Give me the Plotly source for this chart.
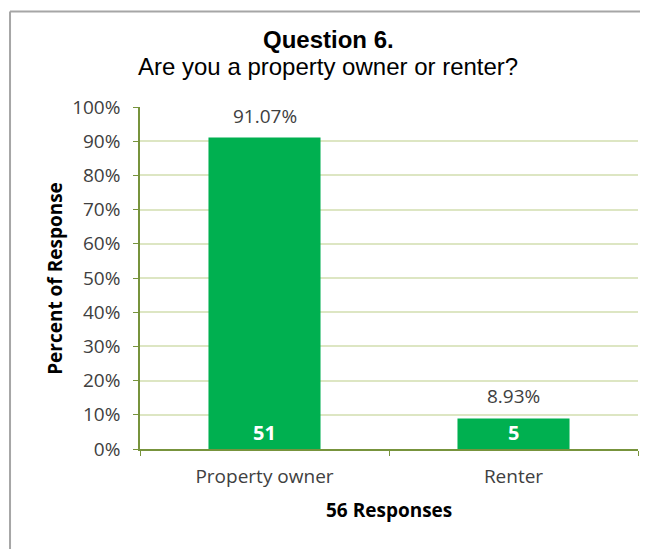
import plotly.graph_objects as go

categories = ["Property owner", "Renter"]
percents = [91.07, 8.93]
counts = [51, 5]
total_label = "56 Responses"
y_ticks = [0, 10, 20, 30, 40, 50, 60, 70, 80, 90, 100]
y_tick_labels = [f"{v}%" for v in y_ticks]

BAR = "#00b050"
GRID = "#dde6c3"
AXIS = "#77933c"
TXT = "#404040"
FONT = "Open Sans"
TFONT = "Liberation Sans"

fig = go.Figure()
fig.add_trace(go.Bar(
    x=categories, y=percents,
    marker=dict(color=BAR, line=dict(width=0)),
    width=0.45,
    hoverinfo="skip",
))

for c, p, n in zip(categories, percents, counts):
    fig.add_annotation(x=c, y=p, xref="x", yref="y", text=f"{p:.2f}%",
                       showarrow=False, yanchor="middle", yshift=22,
                       font=dict(family=FONT, size=19, color=TXT))
    fig.add_annotation(x=c, y=0, xref="x", yref="y", text=f"<b>{n}</b>",
                       showarrow=False, yanchor="middle", yshift=17,
                       font=dict(family=FONT, size=20, color="white"))

# titles
fig.add_annotation(x=0.378, xref="paper", y=1.196, yref="paper", yanchor="middle",
                   text="<b>Question 6.</b>", showarrow=False,
                   font=dict(family=TFONT, size=24, color="black"))
fig.add_annotation(x=0.378, xref="paper", y=1.117, yref="paper", yanchor="middle",
                   text="Are you a property owner or renter?", showarrow=False,
                   font=dict(family=TFONT, size=24, color="black"))
# axis titles
fig.add_annotation(x=0.5, xref="paper", y=-0.178, yref="paper", yanchor="middle",
                   text=f"<b>{total_label}</b>", showarrow=False,
                   font=dict(family=FONT, size=19, color="black"))
fig.add_annotation(x=-0.171, xref="paper", y=0.5, yref="paper", xanchor="center",
                   yanchor="middle", textangle=-90,
                   text="<b>Percent of Response</b>", showarrow=False,
                   font=dict(family=FONT, size=19, color="black"))

fig.update_layout(
    width=648, height=549,
    margin=dict(l=132, r=18, t=99, b=108),
    paper_bgcolor="white", plot_bgcolor="white",
    showlegend=False,
    xaxis=dict(
        type="category",
        showgrid=False,
        showline=True, linecolor=AXIS, linewidth=1.5,
        ticks="outside", tickson="boundaries", ticklen=5, tickcolor=AXIS,
        ticklabelstandoff=9,
        tickfont=dict(family=FONT, size=19, color=TXT),
    ),
    yaxis=dict(
        range=[0, 100],
        tickvals=y_ticks, ticktext=y_tick_labels,
        showgrid=True, gridcolor=GRID, gridwidth=1.5,
        showline=True, linecolor=AXIS, linewidth=1.5,
        ticks="outside", ticklen=5, tickcolor=AXIS,
        ticklabelstandoff=9,
        tickfont=dict(family=FONT, size=19, color=TXT),
        zeroline=False,
    ),
    shapes=[
        dict(type="line", xref="paper", yref="paper",
             x0=-0.261, x1=1.05, y0=1.279, y1=1.279,
             line=dict(color="#a6a6a6", width=2), layer="above"),
        dict(type="line", xref="paper", yref="paper",
             x0=-0.261, x1=-0.261, y0=-0.4, y1=1.279,
             line=dict(color="#a6a6a6", width=2), layer="above"),
    ],
)

fig.write_html("out.html")
